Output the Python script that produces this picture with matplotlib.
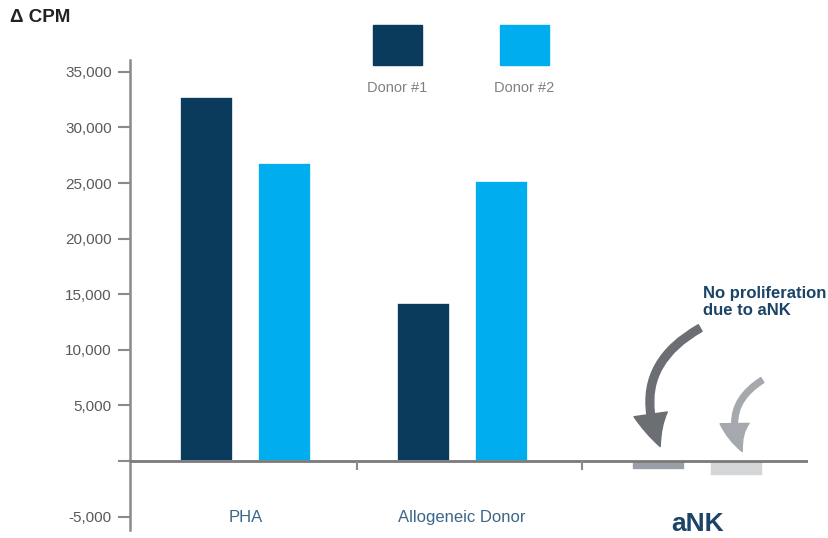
import matplotlib
matplotlib.use("Agg")
from matplotlib import pyplot as plt
from matplotlib.patches import Rectangle
import numpy as np

plt.rcParams['font.family'] = ['Liberation Sans', 'DejaVu Sans']

categories = ["PHA", "Allogeneic Donor", "aNK"]
donor1 = [32700, 14200, -850]
donor2 = [26800, 25200, -1350]
series_names = ["Donor #1", "Donor #2"]
y_ticks = [-5000, 0, 5000, 10000, 15000, 20000, 25000, 30000, 35000]

navy = "#0a3a5c"
cyan = "#00aeef"
colors1 = [navy, navy, "#9a9ea6"]
colors2 = [cyan, cyan, "#d3d5d7"]

fig = plt.figure(figsize=(8.29, 5.38), dpi=100)
ax = fig.add_axes([130 / 829, 1 - 530 / 538, 678 / 829, 470 / 538])

# group centres are not evenly spaced in the original
x = np.array([0.0, 0.96, 2.0])
w = 0.235
off = 0.173
ax.bar(x - off, donor1, w, color=colors1, edgecolor="white", linewidth=1.2, zorder=2)
ax.bar(x + off, donor2, w, color=colors2, edgecolor="white", linewidth=1.2, zorder=2)

ax.set_xlim(-0.51, 2.49)
ax.set_ylim(-6200, 36060)
ax.axhline(0, color="#7a7a7a", lw=2, zorder=3)
ax.vlines([0.495, 1.49], -800, 0, color="#8a8a8a", lw=1.5, zorder=3)

for s in ["top", "right", "bottom"]:
    ax.spines[s].set_visible(False)
ax.spines["left"].set_color("#8a8a8a")
ax.spines["left"].set_linewidth(1.8)
ax.set_yticks(y_ticks)
ax.set_yticklabels(["{:,}".format(v) if v != 0 else "" for v in y_ticks])
ax.tick_params(axis="y", length=9, width=1.5, color="#8a8a8a",
               labelcolor="#5a5a5a", labelsize=11, pad=4)
ax.set_xticks([])

# category labels under the axis
ax.text(x[0], -5050, categories[0], ha="center", va="center", fontsize=12, color="#3b6688")
ax.text(x[1], -5050, categories[1], ha="center", va="center", fontsize=12, color="#3b6688")
ax.text(x[2], -5650, categories[2], ha="center", va="center", fontsize=19,
        fontweight="bold", color="#1a4468")

# annotation
ax.text(2.027, 14300, "No proliferation\ndue to aNK", ha="left", va="center",
        fontsize=12, fontweight="bold", color="#1a4468", linespacing=1.1)
ax.annotate("", xy=(1.836, 1300), xytext=(2.013, 11960),
            arrowprops=dict(arrowstyle="simple,head_width=1.1,head_length=1.1,tail_width=0.25",
                            mutation_scale=22, color="#6b6e72",
                            connectionstyle="arc3,rad=0.45", shrinkA=0, shrinkB=0))
ax.annotate("", xy=(2.199, 850), xytext=(2.288, 7280),
            arrowprops=dict(arrowstyle="simple,head_width=1.1,head_length=1.1,tail_width=0.22",
                            mutation_scale=19, color="#a5a8ac",
                            connectionstyle="arc3,rad=0.45", shrinkA=0, shrinkB=0))

# y label at top-left
fig.text(10 / 829, 1 - 18 / 538, "Δ CPM", ha="left", va="center", fontsize=13.5,
         fontweight="bold", color="#222222")

# legend boxes
for i, (name, c) in enumerate(zip(series_names, [navy, cyan])):
    x0 = 373 + i * 127
    fig.patches.append(Rectangle((x0 / 829, 1 - 65 / 538), 49 / 829, 40 / 538,
                                 transform=fig.transFigure, color=c))
    fig.text((x0 + 24.5) / 829, 1 - 88 / 538, name, ha="center", va="center",
             fontsize=10.5, color="#808080")

fig.savefig("out.png", dpi=100)
